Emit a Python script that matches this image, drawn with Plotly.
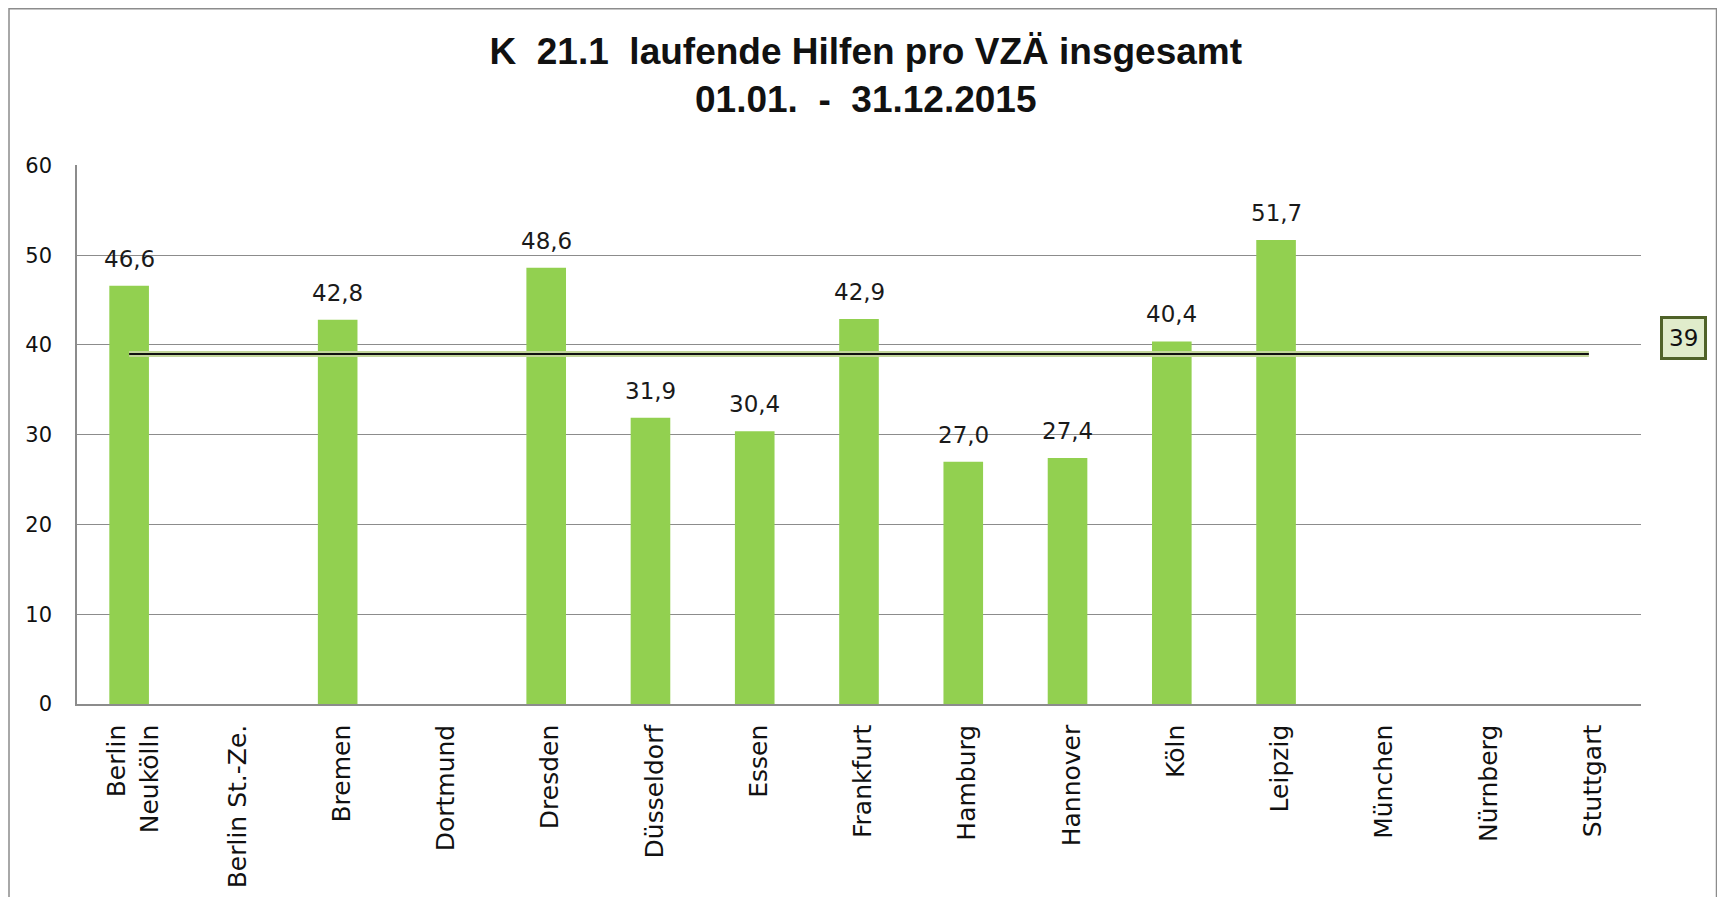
import plotly.graph_objects as go

categories = ["Berlin<br>Neukölln", "Berlin St.-Ze.", "Bremen", "Dortmund", "Dresden",
              "Düsseldorf", "Essen", "Frankfurt", "Hamburg", "Hannover", "Köln",
              "Leipzig", "München", "Nürnberg", "Stuttgart"]
values = [46.6, None, 42.8, None, 48.6, 31.9, 30.4, 42.9, 27.0, 27.4, 40.4, 51.7, None, None, None]
average = 39
avg_values = [average] * len(categories)
y_ticks = [0, 10, 20, 30, 40, 50, 60]

OFF = 8  # page body margin
W, H = 1725 - 2 * OFF, 905 - 2 * OFF
# target screen positions of plot area
SL, SR, ST, SB = 77, 1641, 165, 704
ML, MT = SL - OFF, ST - OFF
MR, MB = W - (SR - OFF), H - (SB - OFF)
PW, PH = W - ML - MR, H - MT - MB

def px(x):
    return (x - OFF - ML) / PW

def py(y):
    return 1 - (y - OFF - MT) / PH

NUMFONT = "DejaVu Sans"

fig = go.Figure()
fig.add_trace(go.Bar(
    x=categories, y=values, marker=dict(color="#92D050", line=dict(width=0)),
    hoverinfo="skip", showlegend=False,
))
fig.add_trace(go.Scatter(
    x=categories, y=avg_values, mode="lines",
    line=dict(color="#C3D69B", width=6), hoverinfo="skip", showlegend=False,
))
fig.add_trace(go.Scatter(
    x=categories, y=avg_values, mode="lines",
    line=dict(color="#111111", width=2), hoverinfo="skip", showlegend=False,
))

annotations = []
for cat, v in zip(categories, values):
    if v is None:
        continue
    annotations.append(dict(
        x=cat, y=v, xref="x", yref="y", text=f"{v:.1f}".replace(".", ","),
        showarrow=False, xanchor="center", yanchor="bottom", yshift=12,
        font=dict(family=NUMFONT, size=23, color="#1a1a1a"),
    ))
annotations.append(dict(
    xref="paper", yref="y", x=px(1683), y=average + 1.8, text=str(average),
    showarrow=False, xanchor="center", yanchor="middle",
    font=dict(family=NUMFONT, size=23, color="#111"),
    bgcolor="#E0ECCB", bordercolor="#4F6228", borderwidth=3, borderpad=6,
))

fig.update_layout(
    width=W, height=H,
    margin=dict(l=ML, r=MR, t=MT, b=MB, autoexpand=False),
    paper_bgcolor="white", plot_bgcolor="white",
    bargap=0.62,
    title=dict(
        text="<b>K  21.1  laufende Hilfen pro VZÄ insgesamt<br>01.01.  -  31.12.2015</b>",
        x=px(862), xanchor="center", y=1 - 55.5 / H, yanchor="top",
        font=dict(family="Liberation Sans, Arial", size=37, color="#111"),
    ),
    xaxis=dict(
        tickangle=-90, showgrid=False, showline=True, linecolor="#8c8c8c", linewidth=1.5,
        ticks="", tickfont=dict(family=NUMFONT, size=25, color="#111"),
        ticklabelstandoff=9, ticklabelshift=4, automargin=False,
    ),
    yaxis=dict(
        range=[0, 60.05], tickvals=y_ticks, showgrid=True, gridcolor="#8c8c8c", gridwidth=1,
        showline=True, linecolor="#8c8c8c", linewidth=1.5, ticks="", zeroline=False,
        tickfont=dict(family=NUMFONT, size=21, color="#111"),
        ticklabelstandoff=19, automargin=False,
    ),
    shapes=[dict(
        type="rect", xref="paper", yref="paper",
        x0=px(9), x1=px(1716.5), y0=py(8.8), y1=py(925),
        line=dict(color="#8c8c8c", width=1.5), fillcolor="rgba(0,0,0,0)",
    )],
    annotations=annotations,
)

fig.write_html("out.html")
